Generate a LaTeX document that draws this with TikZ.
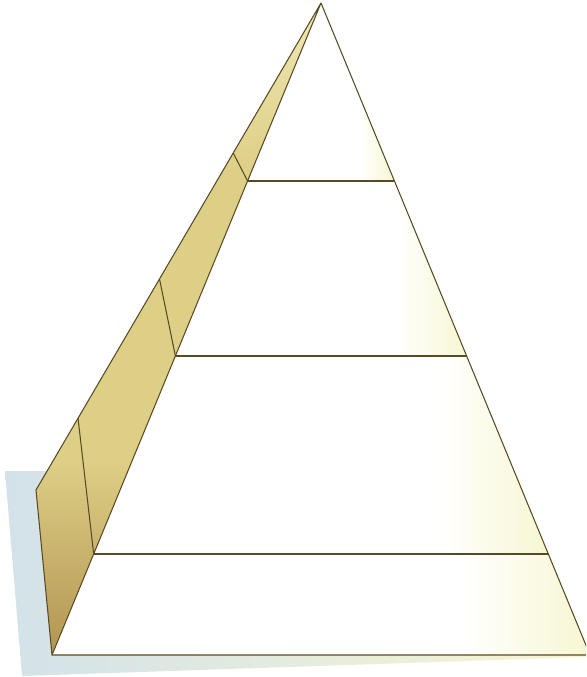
\documentclass[tikz,border=0pt]{standalone}
\usetikzlibrary{calc}

\definecolor{edgebrown}{RGB}{88,74,36}
\definecolor{sidetop}{RGB}{238,232,180}
\definecolor{sidemid}{RGB}{222,207,134}
\definecolor{sidebot}{RGB}{178,148,82}
\definecolor{shadowblue}{RGB}{211,226,233}
\definecolor{shadowmid}{RGB}{226,233,226}
\definecolor{paleyellow}{RGB}{247,246,210}

\pgfdeclarehorizontalshading{frontfade}{100bp}{color(0bp)=(white); color(25bp)=(white); color(63bp)=(white); color(75bp)=(paleyellow); color(100bp)=(paleyellow)}
\pgfdeclareverticalshading{sidefade}{100bp}{color(0bp)=(sidebot); color(25bp)=(sidebot); color(40bp)=(sidemid); color(62bp)=(sidemid); color(75bp)=(sidetop); color(100bp)=(sidetop)}

\begin{document}
\begin{tikzpicture}[
    x=0.03cm, y=-0.03cm,
    edge/.style={draw=edgebrown, line width=0.9pt, line join=round},
    band/.style={shading=frontfade},
    sideface/.style={shading=sidefade},
    shadowface/.style={left color=shadowblue, middle color=shadowmid, right color=paleyellow}
]
    \clip (0,0) rectangle (586,677);

    % Eckpunkte
    \coordinate (apex)  at (321,3);
    \coordinate (back)  at (36,490);
    \coordinate (bl)    at (52,655);
    \coordinate (br)    at (590,655);
    \coordinate (l1)    at (247.6,181);
    \coordinate (r1)    at (394.4,181);
    \coordinate (l2)    at (175.4,356);
    \coordinate (r2)    at (466.6,356);
    \coordinate (l3)    at (93.7,554);
    \coordinate (r3)    at (548.3,554);
    \coordinate (b1)    at (233.2,153);
    \coordinate (b2)    at (159.5,279);
    \coordinate (b3)    at (78,418);

    % Schatten
    \shade[shadowface] (5,471) -- (200,471) -- (586,655) -- (586,657) -- (22,676) -- cycle;

    % Seitenflaeche
    \shade[sideface] (apex) -- (back) -- (bl) -- cycle;
    \draw[edge] (l1) -- (b1);
    \draw[edge] (l2) -- (b2);
    \draw[edge] (l3) -- (b3);

    % Vorderseite, Stufen
    \shade[band] (apex) -- (r1) -- (l1) -- cycle;
    \shade[band] (l1) -- (r1) -- (r2) -- (l2) -- cycle;
    \shade[band] (l2) -- (r2) -- (r3) -- (l3) -- cycle;
    \shade[band] (l3) -- (r3) -- (br) -- (bl) -- cycle;

    % Kanten
    \draw[edge] (apex) -- (back) -- (bl) -- cycle;
    \draw[edge] (apex) -- (br) -- (bl);
    \draw[edge] (l1) -- (r1);
    \draw[edge] (l2) -- (r2);
    \draw[edge] (l3) -- (r3);
\end{tikzpicture}
\end{document}
